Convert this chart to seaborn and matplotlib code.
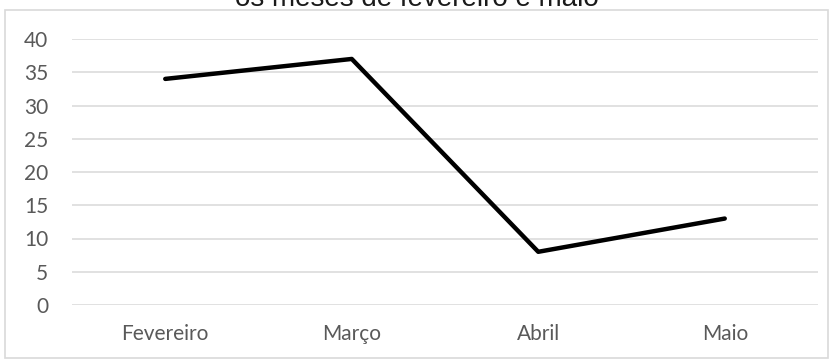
import matplotlib
matplotlib.use("Agg")
import matplotlib.pyplot as plt
import seaborn as sns
import pandas as pd
from matplotlib.patches import Rectangle

months = ["Fevereiro", "Março", "Abril", "Maio"]
values = [34, 37, 8, 13]
yticks = [0, 5, 10, 15, 20, 25, 30, 35, 40]
title = "os meses de fevereiro e maio"

sns.set_theme(style="white")
plt.rcParams['font.family'] = ['Lato', 'DejaVu Sans']

W, H = 833, 360
fig = plt.figure(figsize=(W / 100, H / 100), dpi=100)
ax = fig.add_axes([72 / W, (H - 305) / H, (818 - 72) / W, (305 - 39) / H])

df = pd.DataFrame({"mes": months, "valor": values})
df["x"] = range(len(months))
sns.lineplot(data=df, x="x", y="valor", color="black", linewidth=3.2, ax=ax)

ax.set_xlim(-0.5, len(months) - 0.5)
ax.set_ylim(0, 40)
ax.set_yticks(yticks)
ax.set_yticklabels([str(t) for t in yticks])
ax.set_xticks(range(len(months)))
ax.set_xticklabels(months)
ax.set_xlabel("")
ax.set_ylabel("")
ax.grid(axis="y", color="#d9d9d9", linewidth=1.1)
ax.grid(axis="x", visible=False)
ax.set_axisbelow(True)
for s in ax.spines.values():
    s.set_visible(False)
ax.tick_params(axis="y", length=0, pad=17, labelsize=15, labelcolor="#595959")
ax.tick_params(axis="x", length=0, pad=14, labelsize=15, labelcolor="#595959")

fig.patches.append(Rectangle((5 / W, 2 / H), (828 - 5) / W, (350 - 2) / H,
                             transform=fig.transFigure, fill=False,
                             edgecolor="#d9d9d9", linewidth=1.2))
fig.text(0.5, 1 - 6 / H, title, ha="center", va="baseline", fontsize=20,
         color="#1a1a1a", family=["Liberation Sans", "DejaVu Sans"])

fig.savefig("out.png", dpi=100)
